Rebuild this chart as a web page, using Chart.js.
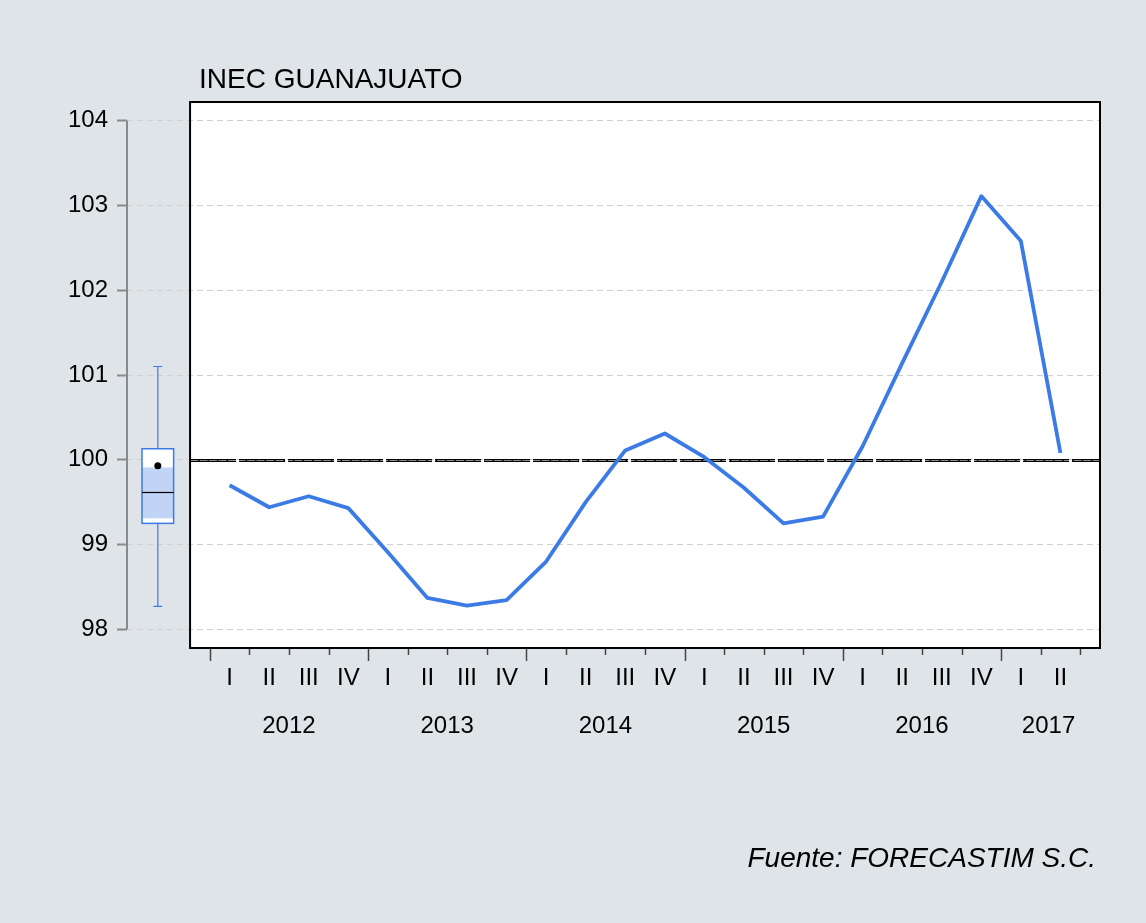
<!DOCTYPE html>
<html>
<head>
<meta charset="utf-8">
<script src="https://cdn.jsdelivr.net/npm/chart.js@4/dist/chart.umd.min.js"></script>
<style>
  body { margin: 0; background: #dfe4e9; }
  canvas { display: block; }
</style>
</head>
<body>
<canvas id="inecChart" width="1146" height="923"></canvas>
<script>
// quarters 2012 I .. 2017 II
const quarterLabels = ['I','II','III','IV','I','II','III','IV','I','II','III','IV',
                       'I','II','III','IV','I','II','III','IV','I','II'];
const years = ['2012', '2013', '2014', '2015', '2016', '2017'];
const yearCenters = [1.5, 5.5, 9.5, 13.5, 17.5, 20.7];
const inecValues = [99.70, 99.44, 99.57, 99.43, 98.91, 98.37, 98.28, 98.345,
                    98.80, 99.50, 100.11, 100.31, 100.03, 99.67, 99.25, 99.33,
                    100.16, 101.14, 102.10, 103.11, 102.58, 100.08];
const yTicks = [98, 99, 100, 101, 102, 103, 104];

// box plot
const boxWhiskers = [98.27, 101.10];
const boxQuartiles = [99.25, 100.13];
const boxMedianBand = [99.31, 99.91];
const boxMedian = 99.62;
const boxMean = 99.93;

const refLevel = 100;
const FONT = '"Liberation Sans", Arial, sans-serif';
const BLUE = '#3b7be6';

const ctx = document.getElementById('inecChart');

const decorations = {
  id: 'decorations',
  beforeDraw(chart) {
    const c = chart.ctx;
    const a = chart.chartArea;
    const x = chart.scales.x;
    c.save();
    c.fillStyle = '#dfe4e9';
    c.fillRect(0, 0, chart.width, chart.height);
    const left = x.getPixelForValue(-1);
    c.fillStyle = '#ffffff';
    c.fillRect(left, a.top, a.right - left, a.bottom - a.top);
    c.restore();
  },
  beforeDatasetsDraw(chart) {
    const c = chart.ctx;
    const a = chart.chartArea;
    const x = chart.scales.x, y = chart.scales.y;
    const left = x.getPixelForValue(-1);
    const py = Math.round(y.getPixelForValue(refLevel)) + 0.5;
    c.save();
    c.strokeStyle = '#000000';
    c.lineWidth = 3;
    c.setLineDash([46, 3]);
    c.beginPath();
    c.moveTo(left, py);
    c.lineTo(a.right, py);
    c.stroke();
    c.strokeStyle = 'rgba(255,255,255,0.55)';
    c.lineWidth = 1;
    c.setLineDash([8, 1.5]);
    c.beginPath();
    c.moveTo(left, py);
    c.lineTo(a.right, py);
    c.stroke();
    c.restore();
  },
  afterDraw(chart) {
    const c = chart.ctx;
    const a = chart.chartArea;
    const x = chart.scales.x, y = chart.scales.y;
    const left = x.getPixelForValue(-1);
    c.save();

    // plot frame
    c.strokeStyle = '#000000';
    c.lineWidth = 2;
    c.setLineDash([]);
    c.strokeRect(left, a.top, a.right - left, a.bottom - a.top);

    // quarter tick marks under the frame
    c.strokeStyle = '#444444';
    c.lineWidth = 1.5;
    for (let i = 0; i <= quarterLabels.length; i++) {
      const px = Math.round(x.getPixelForValue(i - 0.5)) + 0.5;
      const len = (i % 4 === 0) ? 13 : 7;
      c.beginPath();
      c.moveTo(px, a.bottom + 1);
      c.lineTo(px, a.bottom + len);
      c.stroke();
    }

    // left value axis line
    c.strokeStyle = '#8a8a8a';
    c.lineWidth = 2;
    c.beginPath();
    c.moveTo(a.left, y.getPixelForValue(yTicks[yTicks.length - 1]));
    c.lineTo(a.left, y.getPixelForValue(yTicks[0]));
    c.stroke();

    // box plot
    const cx = x.getPixelForValue(-1.815);
    const half = 15.8;
    const cap = 4.5;
    const yq1 = y.getPixelForValue(boxQuartiles[0]);
    const yq3 = y.getPixelForValue(boxQuartiles[1]);
    c.strokeStyle = BLUE;
    c.lineWidth = 1.2;
    c.beginPath();
    c.moveTo(cx, y.getPixelForValue(boxWhiskers[1]));
    c.lineTo(cx, yq3);
    c.moveTo(cx, yq1);
    c.lineTo(cx, y.getPixelForValue(boxWhiskers[0]));
    c.moveTo(cx - cap, y.getPixelForValue(boxWhiskers[1]));
    c.lineTo(cx + cap, y.getPixelForValue(boxWhiskers[1]));
    c.moveTo(cx - cap, y.getPixelForValue(boxWhiskers[0]));
    c.lineTo(cx + cap, y.getPixelForValue(boxWhiskers[0]));
    c.stroke();
    c.fillStyle = '#ffffff';
    c.fillRect(cx - half, yq3, half * 2, yq1 - yq3);
    const yb1 = y.getPixelForValue(boxMedianBand[1]);
    const yb0 = y.getPixelForValue(boxMedianBand[0]);
    c.fillStyle = '#c1d4f6';
    c.fillRect(cx - half, yb1, half * 2, yb0 - yb1);
    c.strokeStyle = BLUE;
    c.lineWidth = 1.5;
    c.strokeRect(cx - half, yq3, half * 2, yq1 - yq3);
    c.strokeStyle = '#000000';
    c.lineWidth = 1.2;
    const ym = Math.round(y.getPixelForValue(boxMedian)) + 0.5;
    c.beginPath();
    c.moveTo(cx - half, ym);
    c.lineTo(cx + half, ym);
    c.stroke();
    c.fillStyle = '#000000';
    c.beginPath();
    c.arc(cx, y.getPixelForValue(boxMean), 3.5, 0, Math.PI * 2);
    c.fill();

    // texts
    c.fillStyle = '#000000';
    c.font = '28px ' + FONT;
    c.textAlign = 'left';
    c.textBaseline = 'alphabetic';
    c.fillText('INEC GUANAJUATO', left + 9, 88);
    c.font = 'italic 28px ' + FONT;
    c.textAlign = 'right';
    c.fillText('Fuente: FORECASTIM S.C.', a.right - 4, 867);
    c.restore();
  }
};

const inecChart = new Chart(ctx, {
  type: 'line',
  data: {
    datasets: [{
      label: 'INEC GUANAJUATO',
      data: inecValues.map((v, i) => ({ x: i, y: v })),
      borderColor: BLUE,
      borderWidth: 3.8,
      pointRadius: 0,
      tension: 0,
      borderJoinStyle: 'round',
      fill: false
    }]
  },
  options: {
    responsive: false,
    animation: false,
    devicePixelRatio: 1,
    layout: { padding: { left: 0, right: 46, top: 102, bottom: 175 } },
    plugins: {
      legend: { display: false },
      title: { display: false },
      tooltip: { enabled: false }
    },
    scales: {
      x: {
        type: 'linear',
        position: 'bottom',
        weight: 0,
        min: -2.594,
        max: 22,
        grid: { display: false, drawTicks: false },
        border: { display: false },
        afterBuildTicks: s => { s.ticks = quarterLabels.map((l, i) => ({ value: i })); },
        afterFit: s => { s.height = 50; },
        ticks: {
          autoSkip: false,
          maxRotation: 0,
          padding: 16,
          color: '#000000',
          font: { family: FONT, size: 24 },
          callback: (v) => quarterLabels[v]
        }
      },
      years: {
        type: 'linear',
        position: 'bottom',
        weight: 1,
        min: -2.594,
        max: 22,
        grid: { display: false, drawTicks: false },
        border: { display: false },
        afterBuildTicks: s => { s.ticks = yearCenters.map(v => ({ value: v })); },
        afterFit: s => { s.height = 50; },
        ticks: {
          autoSkip: false,
          maxRotation: 0,
          padding: 14,
          color: '#000000',
          font: { family: FONT, size: 24 },
          callback: (v, i) => years[i]
        }
      },
      y: {
        type: 'linear',
        position: 'left',
        min: 97.78,
        max: 104.22,
        afterBuildTicks: s => { s.ticks = yTicks.map(v => ({ value: v })); },
        afterFit: s => { s.width = 127; },
        grid: {
          color: '#d0d0d0',
          lineWidth: 1,
          drawTicks: true,
          tickLength: 10,
          tickColor: '#8a8a8a',
          tickWidth: 2,
          tickBorderDash: []
        },
        border: { display: false, dash: [6, 4] },
        ticks: {
          padding: 9,
          color: '#000000',
          font: { family: FONT, size: 24 },
          callback: (v) => String(v)
        }
      }
    }
  },
  plugins: [decorations]
});
</script>
</body>
</html>
